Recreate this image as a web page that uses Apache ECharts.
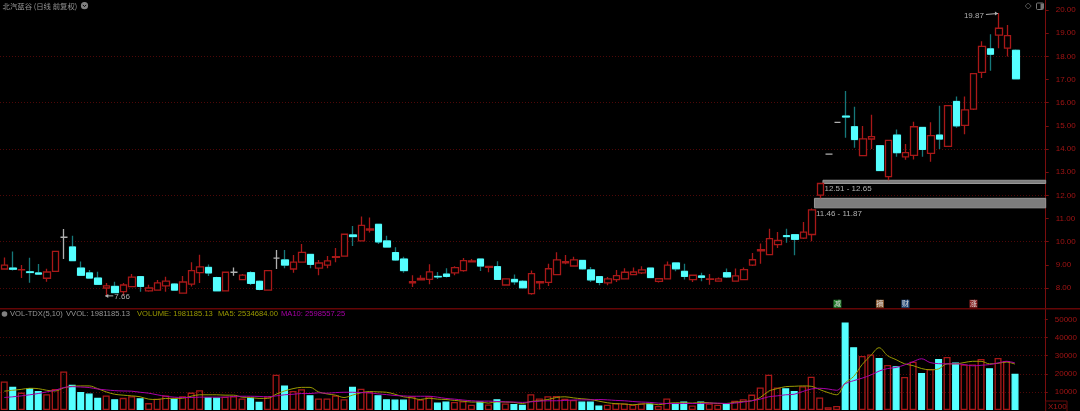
<!DOCTYPE html>
<html><head><meta charset="utf-8">
<style>html,body{margin:0;padding:0;background:#000}#c{width:1080px;height:411px}</style>
<script src="https://cdn.jsdelivr.net/npm/echarts@6/dist/echarts.min.js"></script>
</head><body><div id="c"></div>
<script>
const opens=[8.82,8.86,8.78,8.70,8.65,8.42,8.72,10.19,9.77,8.86,
8.65,8.43,8.00,8.07,7.84,8.06,8.49,7.88,7.91,8.09,
8.17,7.78,8.17,8.66,8.89,8.45,7.88,8.68,8.36,8.66,
8.29,7.91,9.29,9.21,8.82,9.12,9.45,8.86,8.99,9.32,
9.38,10.29,10.03,10.50,10.75,10.03,9.53,9.25,8.22,8.35,
8.37,8.50,8.60,8.65,8.75,9.13,9.25,8.89,8.92,8.13,
8.37,8.29,7.76,8.22,8.24,8.58,9.09,8.95,9.19,8.78,
8.49,8.22,8.36,8.39,8.58,8.65,8.86,8.29,8.39,9.08,
8.72,8.36,8.52,8.37,8.30,8.66,8.30,8.36,8.99,9.60,
9.44,9.87,10.26,10.30,10.15,10.31,12.01,13.78,15.15,15.42,
14.96,13.71,14.43,14.14,12.81,14.60,13.66,13.72,14.93,13.81,
14.60,14.11,16.05,15.02,15.72,17.31,18.32,18.91,18.35,18.26];
const closes=[8.99,8.81,8.79,8.67,8.60,8.69,9.58,10.19,9.18,8.55,
8.43,8.16,8.09,7.80,8.13,8.47,8.07,8.00,8.22,8.30,
7.91,8.26,8.75,8.91,8.65,7.88,8.68,8.68,8.56,8.20,
7.94,8.75,9.29,8.99,9.12,9.54,9.02,9.08,9.17,9.35,
10.32,10.22,10.70,10.55,9.99,9.77,9.21,8.75,8.27,8.41,
8.70,8.48,8.50,8.88,9.18,9.17,8.95,8.93,8.37,8.39,
8.27,8.01,8.62,8.27,8.83,9.21,9.14,9.21,8.83,8.35,
8.24,8.39,8.53,8.68,8.69,8.78,8.45,8.40,8.99,8.83,
8.50,8.55,8.46,8.39,8.39,8.48,8.52,8.79,9.22,9.65,
10.13,10.05,10.22,10.10,10.41,11.37,12.51,13.78,15.15,15.38,
14.41,14.44,14.53,13.07,14.37,13.84,13.84,14.96,13.98,14.58,
14.43,15.87,15.00,15.69,17.25,18.43,18.09,19.21,18.89,17.03];
const lows=[8.80,8.75,8.43,8.23,8.58,8.27,8.72,9.25,9.18,8.52,
8.40,8.16,7.66,7.80,7.67,8.06,7.84,7.84,7.88,7.84,
7.91,7.78,8.07,8.22,8.52,7.88,7.88,8.53,8.33,8.13,
7.90,7.91,8.82,8.85,8.66,9.12,8.85,8.55,8.85,9.11,
9.38,9.81,10.03,10.39,9.90,9.77,9.18,8.66,8.04,8.33,
8.16,8.39,8.45,8.55,8.70,9.11,8.73,8.68,8.37,8.13,
8.14,8.01,7.71,7.94,8.09,8.55,9.02,8.95,8.79,8.26,
8.12,8.12,8.26,8.39,8.55,8.60,8.45,8.24,8.39,8.72,
8.37,8.26,8.29,8.14,8.29,8.43,8.30,8.36,8.95,9.05,
9.44,9.73,9.95,9.41,10.12,10.02,11.87,13.78,15.15,14.48,
14.05,13.71,14.00,13.07,12.65,13.66,13.53,13.55,13.66,13.45,
14.00,14.11,14.92,14.64,15.68,17.06,17.38,18.35,17.99,17.03];
const highs=[9.32,9.58,8.99,9.31,9.04,8.83,9.58,10.55,10.26,9.14,
8.78,8.70,8.22,8.27,8.22,8.60,8.49,8.14,8.35,8.49,
8.20,8.52,9.11,9.44,9.01,8.49,8.68,8.89,8.60,8.72,
8.32,8.75,9.64,9.64,9.42,9.90,9.47,9.21,9.38,9.73,
10.32,10.68,11.09,11.04,10.75,10.26,9.76,9.35,8.55,8.55,
9.02,8.69,8.85,8.94,9.30,9.25,9.25,8.94,9.15,8.39,
8.58,8.33,8.76,8.29,9.05,9.54,9.42,9.35,9.22,8.91,
8.50,8.47,8.78,8.85,8.88,8.94,8.87,8.41,9.14,9.08,
9.05,8.58,8.66,8.60,8.45,8.84,8.84,8.88,9.51,9.92,
10.56,10.42,10.56,10.30,10.85,11.43,12.51,13.78,15.15,16.50,
15.82,14.99,15.48,14.14,14.37,14.84,14.21,15.18,14.95,15.15,
15.87,15.87,16.26,16.26,17.25,18.65,18.95,19.87,19.35,18.29];
const volumes=[15800,12900,9600,12200,10500,8700,11600,21300,14000,10000,
9100,6700,8000,6000,6700,7600,6500,3800,6200,8000,
6200,7600,9600,10900,7100,6900,7300,7600,6400,6700,
4500,7500,19500,13600,10500,11500,8200,6400,6400,8000,
6000,12900,11800,10000,8200,6000,5800,5800,7600,5800,
7600,4200,4700,4400,4900,2900,4700,3100,6000,3600,
3300,2900,8700,6400,7600,7800,6200,5500,4700,4700,
2500,2900,3800,3600,2900,3600,3500,2200,6400,3600,
4700,2500,4700,3600,2900,3600,5100,6000,8500,12400,
19500,12400,12000,10500,13100,18400,6900,1500,2200,48400,
34700,29800,30700,28700,24900,24200,18200,26700,20400,22700,
28200,29300,26200,25100,25100,28200,23100,28700,27100,20000];
const ma5=[10400,10900,11400,12000,11800,10900,10500,12200,13100,13300,
13300,11800,10000,8700,8200,7800,7300,6000,5800,6400,
6400,6500,7600,8400,8400,8400,8200,8200,7100,6900,
6400,6400,8700,10500,11800,12500,12500,10000,8900,8200,
6900,8200,9500,10200,10000,9800,8700,7300,6700,5800,
6500,6000,5800,5300,4900,4400,4400,3800,4500,4400,
4200,3600,4700,5100,5800,6900,7300,6700,6200,5800,
4900,4000,3500,3300,2900,3300,3500,2900,3600,4000,
4000,3800,4200,4000,3600,3600,4200,4700,5100,6900,
10400,11800,12900,13100,13300,13100,11300,9600,8400,14900,
18500,25100,30000,34400,30000,27800,25500,24500,22900,22200,
22700,25500,25500,26200,26900,26900,25500,25800,26500,25347];
const ma10=[6900,7300,7800,8400,9100,10000,10900,12400,12900,12700,
12400,11600,11100,10700,10500,10400,9800,9300,8400,7600,
7100,6900,6900,7100,7100,7100,7100,7500,7600,7600,
7500,7300,7800,8400,8700,9100,9100,9500,9300,9600,
9800,9800,9600,9500,8900,8500,8000,7800,7600,7600,
7600,7100,6400,6000,5500,5100,4900,4900,4700,4500,
4400,4200,4500,4900,5100,5100,5300,5500,5600,5600,
5800,5600,5300,5100,4700,4400,4200,3800,3600,3600,
3600,3600,3600,3800,3800,3600,3800,4400,5100,6000,
7300,7800,8400,8700,10200,11600,12000,11600,10900,14500,
16200,17600,19300,21500,22900,23500,24900,26700,28300,26200,
25600,25500,25500,25100,24400,24700,25100,26000,26900,25986];
const neutralIdx=[7,27,32,97,98];
const priceTicks=[8,9,10,11,12,13,14,15,16,17,18,19,20];
const priceGrid=[8,10,12,14,16,18];
const volTicks=[10000,20000,30000,40000,50000];
const volGrid=[10000,20000,30000,40000];
const gapZones=[[95,11.46,11.87,'11.46 - 11.87'],[96,12.51,12.65,'12.51 - 12.65']];
const extremes=[[117,19.87,'19.87',1],[12,7.66,'7.66',-1]];
const eventTags=[[98,'减','#1f7a28'],[103,'摘','#8a5a32'],[106,'财','#2a4f80'],[114,'涨','#8a2020']];
const titleText='北汽蓝谷 (日线 前复权)';
const legendItems=[['VOL-TDX(5,10)',10,'#969696'],['VVOL: 1981185.13',66,'#969696'],['VOLUME: 1981185.13',137,'#9a9a00'],['MA5: 2534684.00',218,'#9a9a00'],['MA10: 2598557.25',281,'#a800a8']];
const N=123;
const cats=Array.from({length:N},(_,i)=>String(i));
const RED='#a81818',TEAL='#16787a',CYAN='#55ffff',GREY='#b0b0b0',AXIS='#7a0e0e',AXT='#a01414',GRID='#4e0808',F='"Liberation Sans",Arial,sans-serif';
const cjk='"Noto Sans CJK SC","Liberation Sans",sans-serif';
const baseData=opens.map((o,i)=>{
  const v=[o,closes[i],lows[i],highs[i]];
  if(neutralIdx.includes(i))return {value:v,itemStyle:{color:GREY,color0:GREY,borderColor:GREY,borderColor0:GREY,borderColorDoji:GREY}};
  return {value:v};
});
const bodyData=opens.map((o,i)=>closes[i]<o?[o,closes[i],closes[i],o]:['-','-','-','-']);
const volData=volumes.map((v,i)=>closes[i]<opens[i]?{value:v,itemStyle:{color:CYAN,borderColor:CYAN}}:{value:v,itemStyle:{color:'rgba(0,0,0,0)',borderColor:RED}});
const yBase=(min,max)=>({type:'value',position:'right',scale:false,min,max,splitLine:{show:false},
  axisLine:{show:true,lineStyle:{color:AXIS,width:1}}});
const chart=echarts.init(document.getElementById('c'),null,{renderer:'canvas'});
chart.setOption({
 animation:false,backgroundColor:'#000',
 grid:[{left:-0.75,top:0,width:1046.45,height:311.17},{left:-0.75,top:309,width:1046.45,height:101}],
 xAxis:[{type:'category',data:cats,gridIndex:0,show:false},{type:'category',data:cats,gridIndex:1,show:false}],
 yAxis:[
  Object.assign(yBase(7,20.43),{gridIndex:0,interval:1,
    axisTick:{show:true,length:3,lineStyle:{color:AXIS},customValues:priceTicks},
    axisLabel:{customValues:priceTicks,formatter:v=>v.toFixed(2),color:AXT,fontSize:8,fontFamily:F,margin:10,align:'left'}}),
  Object.assign(yBase(0,55800),{gridIndex:1,interval:10000,
    axisTick:{show:true,length:3,lineStyle:{color:AXIS},customValues:volTicks},
    axisLabel:{customValues:volTicks,formatter:v=>String(v),color:AXT,fontSize:8,fontFamily:F,margin:10,align:'left'}})
 ],
 series:[
  {name:'K',type:'candlestick',xAxisIndex:0,yAxisIndex:0,barWidth:7,data:baseData,z:3,
   itemStyle:{color:'#000',color0:CYAN,borderColor:RED,borderColor0:TEAL,borderColorDoji:RED,borderWidth:1.3},
   markLine:{silent:true,symbol:'none',label:{show:false},lineStyle:{type:[1,2],color:GRID,width:1},data:priceGrid.map(v=>({yAxis:v})),z:1}},
  {name:'body',type:'candlestick',xAxisIndex:0,yAxisIndex:0,barWidth:7,data:bodyData,z:4,
   itemStyle:{color:CYAN,color0:CYAN,borderColor:CYAN,borderColor0:CYAN,borderColorDoji:CYAN,borderWidth:1}},
  {name:'gap',type:'custom',xAxisIndex:0,yAxisIndex:0,z:2,data:gapZones,encode:{x:0,y:1},clip:false,
   renderItem(p,api){
    const i=api.value(0),a=api.coord([i,api.value(1)]),b=api.coord([i,api.value(2)]);
    const bw=api.size([1,0])[0],x=a[0]+bw*0.3,r=p.coordSys.x+p.coordSys.width;
    return {type:'group',children:[
     {type:'rect',shape:{x,y:b[1],width:r-x,height:a[1]-b[1]},style:{fill:'#7d7d7d',stroke:'#989898',lineWidth:1}},
     {type:'text',x:x+1.5,y:a[1]+5.5,style:{text:gapZones[p.dataIndex][3],fill:GREY,font:'8px '+F,textVerticalAlign:'middle'}}
    ]};
   }},
  {name:'extreme',type:'custom',xAxisIndex:0,yAxisIndex:0,z:5,data:extremes,encode:{x:0,y:1},clip:false,
   renderItem(p,api){
    const c=api.coord([api.value(0),api.value(1)]),d=extremes[p.dataIndex],up=d[3]>0;
    const x=c[0],y=c[1];
    const line=up?{x1:x-13,y1:y+1.5,x2:x-1,y2:y+0.5}:{x1:x+7,y1:y,x2:x-1,y2:y};
    const head=up?[[x-1,y+0.5],[x-4,y-1.5],[x-4,y+2.5]]:[[x-1,y],[x+2,y-2],[x+2,y+2]];
    return {type:'group',children:[
     {type:'line',shape:line,style:{stroke:GREY,lineWidth:1}},
     {type:'polygon',shape:{points:head},style:{fill:GREY}},
     {type:'text',x:up?x-15:x+8,y:up?y+3:y+0.5,style:{text:d[2],fill:GREY,font:'8px '+F,textAlign:up?'right':'left',textVerticalAlign:'middle'}}
    ]};
   }},
  {name:'tag',type:'custom',xAxisIndex:0,yAxisIndex:0,z:5,data:eventTags.map(t=>[t[0],7.32]),encode:{x:0,y:1},clip:false,
   renderItem(p,api){
    const c=api.coord([api.value(0),api.value(1)]),t=eventTags[p.dataIndex];
    return {type:'group',children:[
     {type:'rect',shape:{x:c[0]-4,y:c[1]-4,width:8,height:8},style:{fill:t[2]}},
     {type:'text',x:c[0],y:c[1],style:{text:t[1],fill:'#d8d8d8',font:'7px '+cjk,textAlign:'center',textVerticalAlign:'middle'}}
    ]};
   }},
  {name:'VOL',type:'bar',xAxisIndex:1,yAxisIndex:1,barWidth:7,data:volData,z:3,
   itemStyle:{borderWidth:1.3},
   markLine:{silent:true,symbol:'none',label:{show:false},lineStyle:{type:[1,2],color:GRID,width:1},data:volGrid.map(v=>({yAxis:v})),z:1}},
  {name:'MA5',type:'line',xAxisIndex:1,yAxisIndex:1,data:ma5,smooth:0.35,symbol:'none',z:5,lineStyle:{color:'#9a9a00',width:1}},
  {name:'MA10',type:'line',xAxisIndex:1,yAxisIndex:1,data:ma10,smooth:0.35,symbol:'none',z:6,lineStyle:{color:'#a800a8',width:1}}
 ],
 graphic:[
  {type:'line',shape:{x1:0,y1:308.7,x2:1080,y2:308.7},style:{stroke:'#640606',lineWidth:1.5},z:10},
  {type:'text',x:2.5,y:5.7,style:{text:titleText,fill:'#969696',font:'7.4px '+cjk,textVerticalAlign:'middle'},z:10},
  {type:'circle',shape:{cx:84.5,cy:5.7,r:3.6},style:{fill:'#808080'},z:10},
  {type:'polyline',shape:{points:[[82.8,4.9],[84.5,6.6],[86.2,4.9]]},style:{stroke:'#000',lineWidth:1,fill:'none'},z:11},
  {type:'polygon',shape:{points:[[1028.2,3],[1031.2,6],[1028.2,9],[1025.2,6]]},style:{stroke:'#666',lineWidth:0.8,fill:'none'},z:10},
  {type:'rect',shape:{x:1036.5,y:3,width:7,height:6.5,r:1},style:{stroke:'#777',lineWidth:1,fill:'#000'},z:10},
  {type:'rect',shape:{x:1040.5,y:3.5,width:2.5,height:5.5},style:{fill:'#777'},z:11},
  {type:'circle',shape:{cx:4.5,cy:314,r:2.8},style:{fill:'#808080'},z:10},
  {type:'rect',shape:{x:1045.7,y:401,width:21.3,height:11},style:{stroke:'#640a0a',lineWidth:1,fill:'#000'},z:10},
  {type:'text',x:1048,y:406.4,style:{text:'X100',fill:AXT,font:'8px '+F,textVerticalAlign:'middle'},z:11}
 ].concat(legendItems.map(l=>({type:'text',x:l[1],y:314,style:{text:l[0],fill:l[2],font:'7.6px '+F,textVerticalAlign:'middle'},z:10})))
});
</script></body></html>
